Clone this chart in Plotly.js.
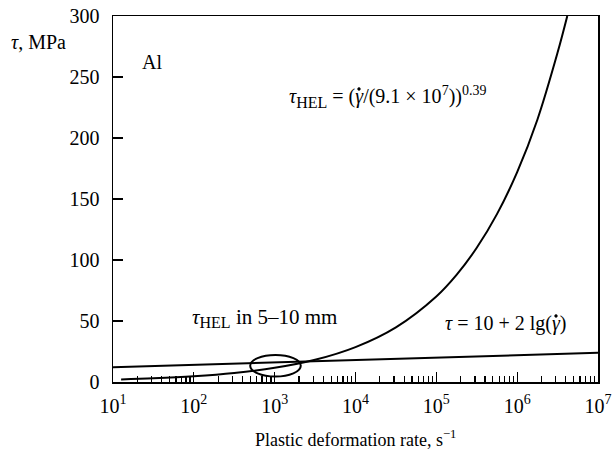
<!DOCTYPE html>
<html>
<head>
<meta charset="utf-8">
<script src="https://cdn.plot.ly/plotly-3.0.1.min.js"></script>
<style>html,body{margin:0;padding:0;background:#fff;}#chart{width:612px;height:453px;}</style>
</head>
<body>
<div id="chart"></div>
<script>
// Power-law curve tau_HEL
const hel_x = [12.6, 31.6, 100, 316, 1000, 3162, 10000, 31623, 100000, 177828, 316228, 562341, 1000000, 1778279, 3162278, 4168694];
const hel_y = [2.1, 3.0, 4.7, 7.4, 11.6, 18.2, 28.6, 44.8, 70.1, 87.8, 110, 137.6, 172, 215, 270, 300];
// Straight line tau = 10 + 2 lg(rate)
const lin_x = [10, 10000000];
const lin_y = [12, 24];
// Axis ticks
const xTickVals = [10, 100, 1000, 10000, 100000, 1000000, 10000000];
const xTickText = ['10<sup>1</sup>', '10<sup>2</sup>', '10<sup>3</sup>', '10<sup>4</sup>', '10<sup>5</sup>', '10<sup>6</sup>', '10<sup>7</sup>'];
const yTickVals = [0, 50, 100, 150, 200, 250, 300];

const FONT = 'Liberation Serif';
const FS = 20;
const FA = 20;
const SUB = '<sub><span style="font-size:16px">HEL</span></sub>';
const NB = '\u00a0';

const traces = [
  {x: hel_x, y: hel_y, type: 'scatter', mode: 'lines', line: {color: '#000', width: 2, shape: 'spline'}, hoverinfo: 'skip'},
  {x: lin_x, y: lin_y, type: 'scatter', mode: 'lines', line: {color: '#000', width: 2}, hoverinfo: 'skip'}
];

// small dot accents over the gamma symbols (paper coordinates)
function dot(cx, cy) {
  const rx = 1.4 / 485, ry = 1.4 / 366;
  return {type: 'circle', xref: 'paper', yref: 'paper', x0: cx - rx, x1: cx + rx, y0: cy - ry, y1: cy + ry,
          fillcolor: '#000', line: {color: '#000', width: 0.5}};
}

const layout = {
  width: 612, height: 453,
  margin: {l: 113, r: 14, t: 16, b: 71},
  paper_bgcolor: '#fff', plot_bgcolor: '#fff',
  showlegend: false,
  font: {family: FONT, size: FS, color: '#000'},
  xaxis: {
    type: 'log', range: [1, 7],
    tickvals: xTickVals, ticktext: xTickText,
    ticks: 'inside', ticklen: 10, tickwidth: 1.3, tickcolor: '#000',
    minor: {ticks: 'inside', ticklen: 6, tickwidth: 1.3, tickcolor: '#000', dtick: 'D1', showgrid: false},
    showline: true, linecolor: '#000', linewidth: 1.5, mirror: true,
    showgrid: false, zeroline: false, ticklabelstandoff: 5,
    tickfont: {family: FONT, size: FS, color: '#000'}
  },
  yaxis: {
    range: [0, 300], tickvals: yTickVals,
    ticks: 'inside', ticklen: 10, tickwidth: 1.3, tickcolor: '#000',
    showline: true, linecolor: '#000', linewidth: 1.5, mirror: true,
    showgrid: false, zeroline: false, ticklabelstandoff: 8,
    tickfont: {family: FONT, size: FS, color: '#000'}
  },
  shapes: [
    {type: 'circle', xref: 'x', yref: 'y', x0: 498, x1: 2104, y0: 4.45, y1: 22.15, line: {color: '#000', width: 2}},
    dot(0.5072, 0.8005),
    dot(0.9134, 0.1803)
  ],
  annotations: [
    {xref: 'paper', yref: 'paper', x: -0.215, y: 0.93, xanchor: 'left', yanchor: 'middle', showarrow: false, text: '<i>τ</i>, MPa', font: {family: FONT, size: FA}},
    {xref: 'paper', yref: 'paper', x: 0.5, y: -0.155, xanchor: 'center', yanchor: 'middle', showarrow: false, text: 'Plastic deformation rate, s<sup>−1</sup>', font: {family: FONT, size: 18}},
    {xref: 'paper', yref: 'paper', x: 0.081, y: 0.874, xanchor: 'center', yanchor: 'middle', showarrow: false, text: 'Al', font: {family: FONT, size: FA}},
    {xref: 'paper', yref: 'paper', x: 0.359, y: 0.779, xanchor: 'left', yanchor: 'middle', showarrow: false, text: '<i>τ</i>' + SUB + NB + '=' + NB + '(<i>γ</i>/(9.1' + NB + '×' + NB + '10<sup>7</sup>))<sup>0.39</sup>', font: {family: FONT, size: FA}},
    {xref: 'paper', yref: 'paper', x: 0.159, y: 0.175, xanchor: 'left', yanchor: 'middle', showarrow: false, text: '<i>τ</i>' + SUB + ' in 5–10 mm', font: {family: FONT, size: 21}},
    {xref: 'paper', yref: 'paper', x: 0.681, y: 0.161, xanchor: 'left', yanchor: 'middle', showarrow: false, text: '<i>τ</i>' + NB + '=' + NB + '10' + NB + '+' + NB + '2' + NB + 'lg(<i>γ</i>)', font: {family: FONT, size: FA}}
  ]
};

Plotly.newPlot('chart', traces, layout, {displayModeBar: false, staticPlot: true});
</script>
</body>
</html>
